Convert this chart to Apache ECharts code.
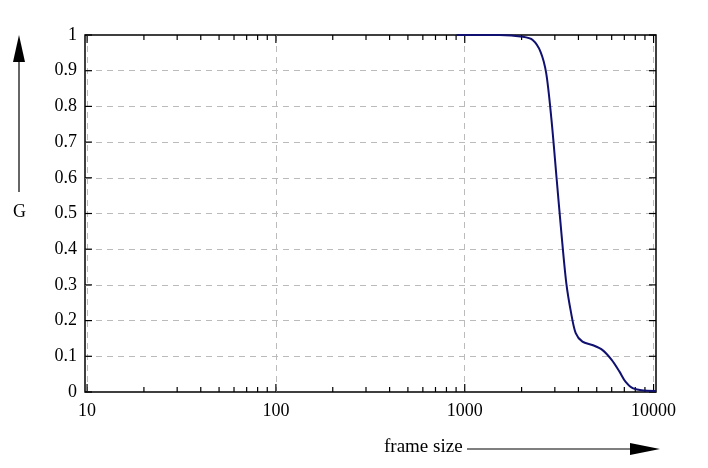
<!DOCTYPE html>
<html>
<head>
<meta charset="utf-8">
<script src="https://cdn.jsdelivr.net/npm/echarts@6/dist/echarts.min.js"></script>
<style>html,body{margin:0;padding:0;background:#fff}</style>
</head>
<body>
<div id="main" style="width:708px;height:468px;"></div>
<script>
    // frame size vs G
    var frameSize = [906, 1532, 2030, 2290, 2520, 2700, 2880, 3060, 3250, 3450, 3660, 3870, 4200, 4780, 5350, 6000, 6600, 7100, 7800, 9000, 10300];
    var gValues = [1.0, 1.0, 0.995, 0.986, 0.953, 0.893, 0.762, 0.603, 0.445, 0.305, 0.221, 0.165, 0.141, 0.131, 0.118, 0.090, 0.057, 0.029, 0.010, 0.004, 0.003];
    var yTicks = [0, 0.1, 0.2, 0.3, 0.4, 0.5, 0.6, 0.7, 0.8, 0.9, 1];
    var xTicks = [10, 20, 30, 40, 50, 60, 70, 80, 90, 100, 200, 300, 400, 500, 600, 700, 800, 900,
                  1000, 2000, 3000, 4000, 5000, 6000, 7000, 8000, 9000, 10000];
    var xMajor = [10, 100, 1000, 10000];

    var font = 'Liberation Serif';
    var myChart = echarts.init(document.getElementById('main'));

    var tickData = xTicks.map(function (v) { return [v, xMajor.indexOf(v) >= 0 ? 1 : 0]; });
    var yTickData = yTicks.map(function (v) { return [v]; });

    var option = {
        animation: false,
        grid: { left: 85, top: 35, right: 52, bottom: 76, show: true, borderColor: '#000', borderWidth: 1.5 },
        xAxis: {
            type: 'log', logBase: 10, min: 9.75, max: 10300,
            axisLine: { show: false },
            axisTick: { show: false },
            axisLabel: { color: '#000', fontFamily: font, fontSize: 18, margin: 10,
                alignMinLabel: 'left', alignMaxLabel: 'right',
                formatter: function (v) { return xMajor.indexOf(Math.round(v)) >= 0 ? Math.round(v) : ''; } },
            splitLine: { show: true, showMinLine: false, showMaxLine: false,
                lineStyle: { color: '#bbb', type: [6, 5], width: 1 } }
        },
        yAxis: {
            type: 'value', min: 0, max: 1, interval: 0.1,
            axisLine: { show: false },
            axisTick: { show: false },
            axisLabel: { color: '#000', fontFamily: font, fontSize: 18, margin: 8,
                formatter: function (v) { return +v.toFixed(1) + ''; } },
            splitLine: { show: true, showMinLine: false, showMaxLine: false,
                lineStyle: { color: '#bbb', type: [6, 5], width: 1 } }
        },
        series: [
            {
                type: 'line', data: frameSize.map(function (x, i) { return [x, gValues[i]]; }),
                smooth: 0.3, showSymbol: false, symbol: 'none',
                lineStyle: { color: '#101070', width: 2 }
            },
            {
                // x ticks (bottom and top, inward)
                type: 'custom', silent: true, data: tickData,
                renderItem: function (params, api) {
                    var x = api.coord([api.value(0), 0])[0];
                    var yb = api.coord([api.value(0), 0])[1];
                    var yt = api.coord([api.value(0), 1])[1];
                    var len = api.value(1) ? 8 : 5;
                    var st = { stroke: '#000', lineWidth: 1.2 };
                    return { type: 'group', children: [
                        { type: 'line', shape: { x1: x, y1: yb, x2: x, y2: yb - len }, style: st },
                        { type: 'line', shape: { x1: x, y1: yt, x2: x, y2: yt + len }, style: st }
                    ] };
                }
            },
            {
                // y ticks (left and right, inward)
                type: 'custom', silent: true, data: yTickData,
                encode: { x: -1, y: 0 },
                renderItem: function (params, api) {
                    var y = api.coord([9.75, api.value(0)])[1];
                    var xl = api.coord([9.75, 0])[0];
                    var xr = api.coord([10300, 0])[0];
                    var st = { stroke: '#000', lineWidth: 1.2 };
                    return { type: 'group', children: [
                        { type: 'line', shape: { x1: xl, y1: y, x2: xl + 7, y2: y }, style: st },
                        { type: 'line', shape: { x1: xr, y1: y, x2: xr - 7, y2: y }, style: st }
                    ] };
                }
            }
        ],
        graphic: [
            { type: 'line', shape: { x1: 19, y1: 192, x2: 19, y2: 52 }, style: { stroke: '#000', lineWidth: 1.2 } },
            { type: 'polygon', shape: { points: [[19, 35], [13, 62], [25, 62]] }, style: { fill: '#000' } },
            { type: 'text', left: 13, top: 203, style: { text: 'G', font: '18px "Liberation Serif"', fill: '#000' } },
            { type: 'text', left: 384, top: 438, style: { text: 'frame size', font: '19px "Liberation Serif"', fill: '#000' } },
            { type: 'line', shape: { x1: 467, y1: 449, x2: 632, y2: 449 }, style: { stroke: '#000', lineWidth: 1.2 } },
            { type: 'polygon', shape: { points: [[660, 449], [630, 443], [630, 455]] }, style: { fill: '#000' } }
        ]
    };
    myChart.setOption(option);
</script>
</body>
</html>
